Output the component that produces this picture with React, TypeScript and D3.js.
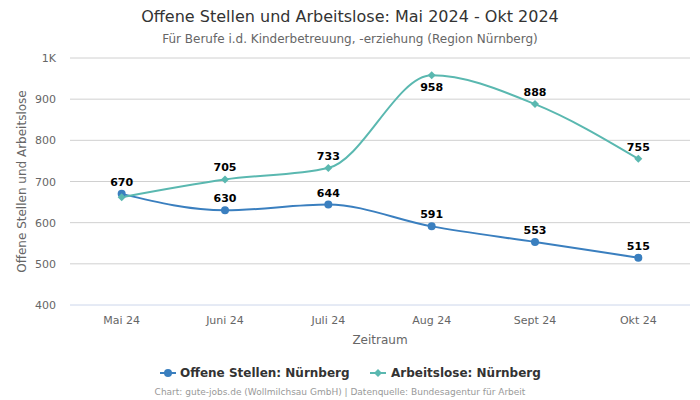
import React from "react";
import * as d3 from "d3";

const categories = ["Mai 24", "Juni 24", "Juli 24", "Aug 24", "Sept 24", "Okt 24"];
const offeneStellen = [670, 630, 644, 591, 553, 515];
const arbeitslose = [662, 705, 733, 958, 888, 755];
const yTicks = [400, 500, 600, 700, 800, 900, 1000];
const hiddenLabels = { arbeitslose: [0] };

const W = 700, H = 400;
const M = { left: 70, right: 690, top: 58, bottom: 305 };
const FONT = "DejaVu Sans, Verdana, sans-serif";
const BLUE = "#3a7fbf";
const TEAL = "#5ab8b0";

export default function App() {
  const x = d3.scaleBand<string>().domain(categories).range([M.left, M.right]);
  const cx = (c: string) => (x(c) as number) + x.bandwidth() / 2;
  const y = d3.scaleLinear().domain([400, 1000]).range([M.bottom, M.top]);
  const line = d3
    .line<number>()
    .x((_, i) => cx(categories[i]))
    .y((d) => y(d))
    .curve(d3.curveMonotoneX);
  const fmt = (v: number) => (v >= 1000 ? v / 1000 + "K" : String(v));
  const diamond = (px: number, py: number, r: number) =>
    `M${px},${py - r}L${px + r},${py}L${px},${py + r}L${px - r},${py}Z`;

  return (
    <svg width={W} height={H} style={{ position: "absolute", left: 0, top: 0, fontFamily: FONT }}>
      <rect width={W} height={H} fill="#fff" />
      <text x={350} y={22} textAnchor="middle" fontSize={16} fill="#333">
        Offene Stellen und Arbeitslose: Mai 2024 - Okt 2024
      </text>
      <text x={350} y={43} textAnchor="middle" fontSize={12} fill="#666">
        Für Berufe i.d. Kinderbetreuung, -erziehung (Region Nürnberg)
      </text>
      {yTicks.map((t) => (
        <g key={t}>
          <line x1={M.left} x2={M.right} y1={y(t)} y2={y(t)} stroke={t === 400 ? "#ccd6eb" : "#d0d0d0"} strokeWidth={1} />
          <text x={56} y={y(t) + 4} textAnchor="end" fontSize={11} fill="#666">
            {fmt(t)}
          </text>
        </g>
      ))}
      {categories.map((c) => (
        <text key={c} x={cx(c)} y={324} textAnchor="middle" fontSize={11} fill="#666">
          {c}
        </text>
      ))}
      <text x={380} y={344} textAnchor="middle" fontSize={12} fill="#666">
        Zeitraum
      </text>
      <text
        transform={`translate(26,${(M.top + M.bottom) / 2}) rotate(-90)`}
        textAnchor="middle"
        fontSize={12}
        fill="#666"
      >
        Offene Stellen und Arbeitslose
      </text>
      <path d={line(offeneStellen) || ""} fill="none" stroke={BLUE} strokeWidth={2} />
      <path d={line(arbeitslose) || ""} fill="none" stroke={TEAL} strokeWidth={2} />
      {offeneStellen.map((v, i) => (
        <circle key={"o" + i} cx={cx(categories[i])} cy={y(v)} r={4} fill={BLUE} />
      ))}
      {arbeitslose.map((v, i) => (
        <path key={"a" + i} d={diamond(cx(categories[i]), y(v), 4)} fill={TEAL} />
      ))}
      {offeneStellen.map((v, i) => (
        <text key={"ol" + i} x={cx(categories[i])} y={y(v) - 8} textAnchor="middle" fontSize={11} fontWeight="bold" fill="#000">
          {v}
        </text>
      ))}
      {arbeitslose.map((v, i) =>
        hiddenLabels.arbeitslose.includes(i) ? null : (
          <text
            key={"al" + i}
            x={cx(categories[i])}
            y={v > 950 ? y(v) + 16 : y(v) - 8}
            textAnchor="middle"
            fontSize={11}
            fontWeight="bold"
            fill="#000"
          >
            {v}
          </text>
        )
      )}
      <g>
        <line x1={160} x2={176} y1={373} y2={373} stroke={BLUE} strokeWidth={2} />
        <circle cx={168} cy={373} r={4} fill={BLUE} />
        <text x={180} y={377} fontSize={12} fontWeight="bold" fill="#333">
          Offene Stellen: Nürnberg
        </text>
        <line x1={370} x2={386} y1={373} y2={373} stroke={TEAL} strokeWidth={2} />
        <path d={diamond(378, 373, 4)} fill={TEAL} />
        <text x={391} y={377} fontSize={12} fontWeight="bold" fill="#333">
          Arbeitslose: Nürnberg
        </text>
      </g>
      <text x={340} y={395} textAnchor="middle" fontSize={9} fill="#999">
        Chart: gute-jobs.de (Wollmilchsau GmbH) | Datenquelle: Bundesagentur für Arbeit
      </text>
    </svg>
  );
}
